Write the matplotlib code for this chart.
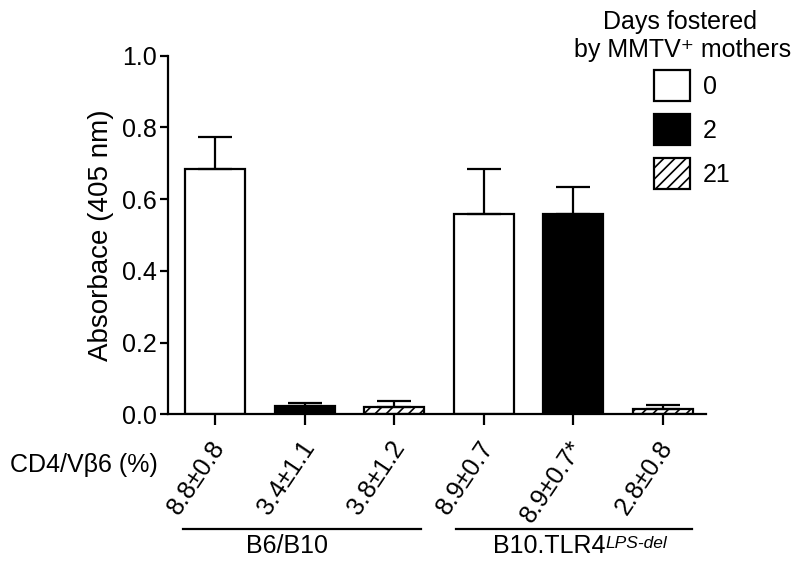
import matplotlib
matplotlib.use("Agg")
import matplotlib.pyplot as plt
import matplotlib.transforms as mtransforms
from matplotlib.patches import Patch

plt.rcParams['font.family'] = ['Liberation Sans', 'DejaVu Sans']
plt.rcParams['hatch.linewidth'] = 1.2

# ---- data ----
days = ["0", "2", "21"]
values = [0.683, 0.023, 0.021, 0.558, 0.558, 0.015]
errors = [0.091, 0.009, 0.016, 0.125, 0.077, 0.010]
bar_days = ["0", "2", "21", "0", "2", "21"]
cd4_labels = ["8.8±0.8", "3.4±1.1", "3.8±1.2", "8.9±0.7", "8.9±0.7*", "2.8±0.8"]
yticks = [0.0, 0.2, 0.4, 0.6, 0.8, 1.0]
groups = ["B6/B10", "B10.TLR4"]
group_sup = ["", "LPS-del"]

W, H = 800, 565
fig = plt.figure(figsize=(W / 100, H / 100), dpi=100)
ax = fig.add_axes([168 / W, 1 - 414.3 / H, (706 - 168) / W, (414.3 - 55.7) / H])

style = {
    "0": dict(facecolor="white", hatch=None),
    "2": dict(facecolor="black", hatch=None),
    "21": dict(facecolor="white", hatch="///"),
}

x = list(range(len(values)))
for xi, v, d in zip(x, values, bar_days):
    ax.bar(xi, v, width=0.67, edgecolor="black", linewidth=1.6, zorder=2, **style[d])

ax.errorbar(x, values, yerr=[[0] * len(errors), errors], fmt="none", ecolor="black",
            elinewidth=1.6, capsize=12, capthick=1.6, zorder=3)

ax.set_xlim(-0.525, 5.48)
ax.set_ylim(0, 1.0)
ax.set_yticks(yticks)
ax.set_yticklabels([f"{t:.1f}" for t in yticks], fontsize=18)
ax.set_xticks(x)
ax.set_xticklabels([])
for s in ["top", "right"]:
    ax.spines[s].set_visible(False)
for s in ["left", "bottom"]:
    ax.spines[s].set_linewidth(1.6)
ax.tick_params(axis="y", length=6, width=1.6, pad=2, direction="out")
ax.tick_params(axis="x", length=8, width=1.6, direction="out")
ax.set_ylabel("Absorbace (405 nm)", fontsize=20, labelpad=6)

# rotated CD4/Vb6 labels
for xi, lbl in zip(x, cd4_labels):
    ax.annotate(lbl, xy=(xi, 0), xycoords=("data", "axes fraction"),
                xytext=(5, -29), textcoords="offset pixels", rotation=56,
                ha="right", va="center", rotation_mode="anchor", fontsize=18)

fig.text(10 / W, 1 - 465 / H, "CD4/Vβ6 (%)", fontsize=18, ha="left", va="center")

# group lines
trans = mtransforms.blended_transform_factory(ax.transData, fig.transFigure)
line_spans = [(-0.357, 2.30), (2.69, 5.32)]
for (a, b) in line_spans:
    ax.plot([a, b], [1 - 529 / H, 1 - 529 / H], color="black", lw=1.6,
            transform=trans, clip_on=False)

t1 = fig.text(287.5 / W, 1 - 553 / H, groups[0], fontsize=18, ha="center", va="baseline")
t2 = fig.text(493 / W, 1 - 553 / H, groups[1], fontsize=18, ha="left", va="baseline")
fig.canvas.draw()
bb = t2.get_window_extent()
fig.text(bb.x1 / W, 1 - 548 / H, group_sup[1], fontsize=12.5, style="italic",
         ha="left", va="baseline")

# legend
fig.text(680 / W, 1 - 29 / H, "Days fostered", fontsize=18, ha="center", va="baseline")
fig.text(683 / W, 1 - 57 / H, "by MMTV⁺ mothers", fontsize=18, ha="center", va="baseline")
handles = [Patch(edgecolor="black", linewidth=1.6, **style[d]) for d in days]
ax.legend(handles, days, loc="upper left", bbox_to_anchor=(654 / W, 1 - 70 / H),
          bbox_transform=fig.transFigure, borderpad=0, borderaxespad=0,
          handlelength=1.44, handleheight=1.55, handletextpad=0.52,
          labelspacing=0.5, frameon=False, fontsize=18)

fig.savefig("out.png", dpi=100)
